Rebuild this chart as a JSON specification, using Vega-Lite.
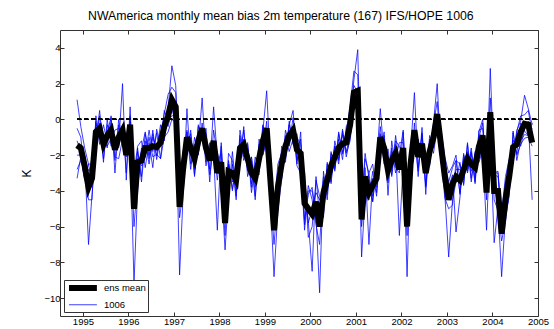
{
"$schema": "https://vega.github.io/schema/vega-lite/v6.json",
"width": 478, "height": 286,
"autosize": {"type": "none"},
"padding": {"left": 60, "top": 30, "right": 16, "bottom": 13},
"background": "white",
"config": {"view": {"stroke": null}, "font": "Liberation Sans"},
"title": {"text": "NWAmerica monthly mean bias 2m temperature (167) IFS/HOPE 1006", "anchor": "start", "frame": "group", "dx": 28, "fontSize": 12.3, "fontWeight": "normal", "font": "Liberation Sans", "color": "black", "offset": 7},
"data": {"values": [
{"t":"1994-11-15","mean":-1.45,"m1":1.1,"m2":-0.5,"m3":-1.2,"m4":-2.0,"m5":-2.8,"m6":-3.3},
{"t":"1994-12-15","mean":-1.6,"m1":-0.4,"m2":-1.0,"m3":-1.8,"m4":-2.0,"m5":-2.3,"m6":-2.1},
{"t":"1995-01-15","mean":-2.6,"m1":-1.6,"m2":-3.1,"m3":-2.2,"m4":-3.4,"m5":-2.0,"m6":-3.3},
{"t":"1995-02-15","mean":-3.8,"m1":-2.5,"m2":-4.5,"m3":-7.0,"m4":-2.8,"m5":-3.5,"m6":-2.5},
{"t":"1995-03-15","mean":-3.3,"m1":-2.5,"m2":-4.5,"m3":-4.2,"m4":-3.0,"m5":-2.1,"m6":-3.5},
{"t":"1995-04-15","mean":-0.7,"m1":-1.1,"m2":0.2,"m3":-1.8,"m4":-0.1,"m5":-1.2,"m6":-0.2},
{"t":"1995-05-15","mean":-0.5,"m1":0.2,"m2":-1.1,"m3":-0.2,"m4":-1.4,"m5":0.5,"m6":-1.0},
{"t":"1995-06-15","mean":-1.4,"m1":-2.2,"m2":-0.9,"m3":-2.4,"m4":-0.3,"m5":-1.7,"m6":-0.9},
{"t":"1995-07-15","mean":-0.9,"m1":-0.3,"m2":-1.6,"m3":0.0,"m4":-1.3,"m5":-0.7,"m6":-1.5},
{"t":"1995-08-15","mean":-0.6,"m1":-1.1,"m2":0.2,"m3":-1.5,"m4":-0.2,"m5":0.1,"m6":-1.1},
{"t":"1995-09-15","mean":-1.7,"m1":-1.2,"m2":-3.0,"m3":-1.0,"m4":-2.3,"m5":-2.1,"m6":-0.6},
{"t":"1995-10-15","mean":-1.0,"m1":-1.6,"m2":-0.3,"m3":-1.4,"m4":0.0,"m5":-2.2,"m6":-0.5},
{"t":"1995-11-15","mean":-0.6,"m1":-0.3,"m2":-1.5,"m3":2.0,"m4":-1.3,"m5":-1.1,"m6":-1.4},
{"t":"1995-12-15","mean":-2.0,"m1":-3.0,"m2":-0.8,"m3":-3.4,"m4":-1.6,"m5":-1.1,"m6":-2.1},
{"t":"1996-01-15","mean":-0.3,"m1":0.2,"m2":-1.1,"m3":0.7,"m4":-0.6,"m5":-0.9,"m6":-0.1},
{"t":"1996-02-15","mean":-5.0,"m1":-3.5,"m2":-9.2,"m3":-4.5,"m4":-3.0,"m5":-6.0,"m6":-3.8},
{"t":"1996-03-15","mean":-2.4,"m1":-1.8,"m2":-3.9,"m3":-1.6,"m4":-1.5,"m5":-3.4,"m6":-2.2},
{"t":"1996-04-15","mean":-2.3,"m1":-3.2,"m2":-1.6,"m3":-3.5,"m4":-1.2,"m5":-1.7,"m6":-2.6},
{"t":"1996-05-15","mean":-1.6,"m1":-0.8,"m2":-2.1,"m3":-1.2,"m4":-2.7,"m5":-0.7,"m6":-2.1},
{"t":"1996-06-15","mean":-1.6,"m1":-2.2,"m2":-0.6,"m3":-2.5,"m4":-1.3,"m5":-2.0,"m6":-1.0},
{"t":"1996-07-15","mean":-1.5,"m1":-0.6,"m2":-1.8,"m3":-1.0,"m4":-2.7,"m5":-0.8,"m6":-2.1},
{"t":"1996-08-15","mean":-1.55,"m1":-2.25,"m2":-0.75,"m3":-1.75,"m4":-0.55,"m5":-2.05,"m6":-1.95},
{"t":"1996-09-15","mean":-1.3,"m1":-0.9,"m2":-2.2,"m3":-0.3,"m4":-1.5,"m5":-0.7,"m6":-2.2},
{"t":"1996-10-15","mean":-0.4,"m1":0.3,"m2":-0.1,"m3":-1.2,"m4":0.5,"m5":-0.9,"m6":-1.0},
{"t":"1996-11-15","mean":0.2,"m1":1.4,"m2":-0.4,"m3":0.6,"m4":-0.1,"m5":0.4,"m6":-0.7},
{"t":"1996-12-15","mean":1.1,"m1":1.8,"m2":0.6,"m3":3.0,"m4":0.2,"m5":1.0,"m6":0.0},
{"t":"1997-01-15","mean":0.7,"m1":1.5,"m2":-0.2,"m3":1.9,"m4":0.2,"m5":1.0,"m6":-0.2},
{"t":"1997-02-15","mean":-4.9,"m1":-3.2,"m2":-5.5,"m3":-3.7,"m4":-8.7,"m5":-4.5,"m6":-3.8},
{"t":"1997-03-15","mean":-2.8,"m1":-1.9,"m2":-4.0,"m3":-2.3,"m4":-4.3,"m5":-2.5,"m6":-1.8},
{"t":"1997-04-15","mean":-1.0,"m1":-1.5,"m2":0.6,"m3":-1.8,"m4":-0.6,"m5":-2.0,"m6":-0.7},
{"t":"1997-05-15","mean":-1.6,"m1":-1.0,"m2":-2.5,"m3":-0.6,"m4":-2.8,"m5":-0.8,"m6":-1.9},
{"t":"1997-06-15","mean":-2.2,"m1":-3.2,"m2":-1.7,"m3":-2.8,"m4":-1.0,"m5":-3.1,"m6":-1.4},
{"t":"1997-07-15","mean":-1.2,"m1":-0.4,"m2":-1.6,"m3":-0.3,"m4":-2.0,"m5":-1.0,"m6":-1.9},
{"t":"1997-08-15","mean":-0.5,"m1":-0.9,"m2":1.2,"m3":-1.2,"m4":-0.2,"m5":-1.1,"m6":-0.8},
{"t":"1997-09-15","mean":-1.6,"m1":-0.9,"m2":-2.4,"m3":-1.2,"m4":-2.6,"m5":-0.5,"m6":-2.0},
{"t":"1997-10-15","mean":-2.3,"m1":-3.5,"m2":-1.4,"m3":-2.8,"m4":-1.7,"m5":-3.1,"m6":-1.3},
{"t":"1997-11-15","mean":-1.2,"m1":-0.6,"m2":-2.0,"m3":0.7,"m4":-1.9,"m5":-1.6,"m6":-1.8},
{"t":"1997-12-15","mean":-3.0,"m1":-2.0,"m2":-6.2,"m3":-2.2,"m4":-2.4,"m5":-3.4,"m6":-1.8},
{"t":"1998-01-15","mean":-2.4,"m1":-3.2,"m2":-1.3,"m3":-3.6,"m4":-1.9,"m5":-1.5,"m6":-2.9},
{"t":"1998-02-15","mean":-5.8,"m1":-5.0,"m2":-4.7,"m3":-7.3,"m4":-5.5,"m5":-5.8,"m6":-6.5},
{"t":"1998-03-15","mean":-2.9,"m1":-2.3,"m2":-1.9,"m3":-4.2,"m4":-2.5,"m5":-4.0,"m6":-2.5},
{"t":"1998-04-15","mean":-3.0,"m1":-3.9,"m2":-2.3,"m3":-1.8,"m4":-4.0,"m5":-2.5,"m6":-3.5},
{"t":"1998-05-15","mean":-3.4,"m1":-2.4,"m2":-4.5,"m3":-4.0,"m4":-2.6,"m5":-4.3,"m6":-2.6},
{"t":"1998-06-15","mean":-1.6,"m1":-2.2,"m2":-0.6,"m3":-1.1,"m4":-2.4,"m5":-0.9,"m6":-2.4},
{"t":"1998-07-15","mean":-1.4,"m1":-0.6,"m2":-1.9,"m3":-2.3,"m4":-0.4,"m5":-2.1,"m6":-1.1},
{"t":"1998-08-15","mean":-2.2,"m1":-2.9,"m2":-1.3,"m3":-1.6,"m4":-3.2,"m5":-1.4,"m6":-2.8},
{"t":"1998-09-15","mean":-3.0,"m1":-2.1,"m2":-3.8,"m3":-4.1,"m4":-2.3,"m5":-3.6,"m6":-2.1},
{"t":"1998-10-15","mean":-3.3,"m1":-3.8,"m2":-2.1,"m3":-2.6,"m4":-4.5,"m5":-2.5,"m6":-4.3},
{"t":"1998-11-15","mean":-2.2,"m1":-1.4,"m2":-2.9,"m3":-3.1,"m4":-1.1,"m5":-2.8,"m6":-1.9},
{"t":"1998-12-15","mean":-1.2,"m1":-1.8,"m2":-0.3,"m3":-0.7,"m4":-2.0,"m5":-0.4,"m6":-2.0},
{"t":"1999-01-15","mean":-0.5,"m1":-0.1,"m2":-1.1,"m3":1.6,"m4":-1.0,"m5":-1.2,"m6":-1.2},
{"t":"1999-02-15","mean":-3.5,"m1":-4.5,"m2":-2.1,"m3":-2.6,"m4":-4.7,"m5":-2.9,"m6":-4.2},
{"t":"1999-03-15","mean":-6.2,"m1":-5.0,"m2":-4.9,"m3":-6.0,"m4":-8.8,"m5":-5.5,"m6":-7.0},
{"t":"1999-04-15","mean":-3.8,"m1":-3.1,"m2":-2.5,"m3":-4.6,"m4":-5.1,"m5":-3.2,"m6":-4.3},
{"t":"1999-05-15","mean":-2.5,"m1":-3.3,"m2":-1.9,"m3":-1.5,"m4":-3.4,"m5":-3.1,"m6":-1.8},
{"t":"1999-06-15","mean":-1.5,"m1":-0.6,"m2":-2.2,"m3":-1.9,"m4":-1.0,"m5":-0.9,"m6":-2.4},
{"t":"1999-07-15","mean":-0.9,"m1":-1.4,"m2":-0.1,"m3":-0.3,"m4":-1.8,"m5":-1.5,"m6":-0.3},
{"t":"1999-08-15","mean":-0.6,"m1":0.1,"m2":-1.4,"m3":0.5,"m4":-1.1,"m5":-0.4,"m6":-1.3},
{"t":"1999-09-15","mean":-1.7,"m1":-2.3,"m2":-0.8,"m3":-2.5,"m4":-1.0,"m5":-2.6,"m6":-1.0},
{"t":"1999-10-15","mean":-1.9,"m1":-1.1,"m2":-2.9,"m3":-0.7,"m4":-2.3,"m5":-3.0,"m6":-1.4},
{"t":"1999-11-15","mean":-4.7,"m1":-6.2,"m2":-2.9,"m3":-5.6,"m4":-4.2,"m5":-5.9,"m6":-3.4},
{"t":"1999-12-15","mean":-5.0,"m1":-4.0,"m2":-6.6,"m3":-4.2,"m4":-5.7,"m5":-3.7,"m6":-5.8},
{"t":"2000-01-15","mean":-5.3,"m1":-4.0,"m2":-6.0,"m3":-3.8,"m4":-8.5,"m5":-4.5,"m6":-5.0},
{"t":"2000-02-15","mean":-4.6,"m1":-5.6,"m2":-3.4,"m3":-5.4,"m4":-3.2,"m5":-5.9,"m6":-4.1},
{"t":"2000-03-15","mean":-6.0,"m1":-5.0,"m2":-4.3,"m3":-9.7,"m4":-5.5,"m5":-7.0,"m6":-4.5},
{"t":"2000-04-15","mean":-4.1,"m1":-3.2,"m2":-5.5,"m3":-2.9,"m4":-4.9,"m5":-3.4,"m6":-4.7},
{"t":"2000-05-15","mean":-3.4,"m1":-4.2,"m2":-2.4,"m3":-4.5,"m4":-2.5,"m5":-4.0,"m6":-2.8},
{"t":"2000-06-15","mean":-2.6,"m1":-1.9,"m2":-3.5,"m3":-1.8,"m4":-3.6,"m5":-2.1,"m6":-2.7},
{"t":"2000-07-15","mean":-2.1,"m1":-2.7,"m2":-1.2,"m3":-2.8,"m4":-1.5,"m5":-2.9,"m6":-1.5},
{"t":"2000-08-15","mean":-1.6,"m1":-0.8,"m2":-2.2,"m3":-1.1,"m4":-2.5,"m5":-0.7,"m6":-2.3},
{"t":"2000-09-15","mean":-1.35,"m1":-1.85,"m2":-0.65,"m3":-2.25,"m4":-0.55,"m5":-1.95,"m6":-0.85},
{"t":"2000-10-15","mean":-1.3,"m1":-0.7,"m2":-2.1,"m3":-0.4,"m4":-1.9,"m5":-0.9,"m6":-1.8},
{"t":"2000-11-15","mean":-0.3,"m1":0.7,"m2":-1.0,"m3":0.1,"m4":-1.2,"m5":0.5,"m6":-0.9},
{"t":"2000-12-15","mean":1.5,"m1":2.7,"m2":1.0,"m3":2.2,"m4":0.7,"m5":1.9,"m6":0.5},
{"t":"2001-01-15","mean":1.6,"m1":2.5,"m2":0.4,"m3":3.9,"m4":0.5,"m5":1.5,"m6":0.8},
{"t":"2001-02-15","mean":-5.6,"m1":-4.8,"m2":-6.0,"m3":-4.6,"m4":-7.7,"m5":-5.0,"m6":-5.5},
{"t":"2001-03-15","mean":-3.2,"m1":-2.2,"m2":-4.0,"m3":-1.9,"m4":-4.3,"m5":-2.7,"m6":-4.1},
{"t":"2001-04-15","mean":-4.1,"m1":-3.0,"m2":-4.5,"m3":-3.3,"m4":-3.0,"m5":-7.0,"m6":-3.8},
{"t":"2001-05-15","mean":-3.7,"m1":-4.6,"m2":-2.9,"m3":-4.3,"m4":-2.5,"m5":-3.3,"m6":-4.6},
{"t":"2001-06-15","mean":-3.3,"m1":-2.7,"m2":-4.3,"m3":-2.4,"m4":-4.1,"m5":-3.8,"m6":-2.5},
{"t":"2001-07-15","mean":-1.0,"m1":-0.4,"m2":-1.8,"m3":0.6,"m4":-1.9,"m5":-0.8,"m6":-1.7},
{"t":"2001-08-15","mean":-1.6,"m1":-2.3,"m2":-0.7,"m3":-2.1,"m4":-0.9,"m5":-2.5,"m6":-1.1},
{"t":"2001-09-15","mean":-2.85,"m1":-2.05,"m2":-4.25,"m3":-2.25,"m4":-3.35,"m5":-1.65,"m6":-3.55},
{"t":"2001-10-15","mean":-2.3,"m1":-2.9,"m2":-1.2,"m3":-3.1,"m4":-1.6,"m5":-3.2,"m6":-1.8},
{"t":"2001-11-15","mean":-1.9,"m1":-1.2,"m2":-2.7,"m3":-0.9,"m4":-3.0,"m5":-1.4,"m6":-2.2},
{"t":"2001-12-15","mean":-2.8,"m1":-1.5,"m2":-3.0,"m3":-2.5,"m4":-2.0,"m5":-6.5,"m6":-1.3},
{"t":"2002-01-15","mean":-1.6,"m1":-2.1,"m2":-0.7,"m3":-2.4,"m4":-0.6,"m5":-2.5,"m6":-1.3},
{"t":"2002-02-15","mean":-6.0,"m1":-5.0,"m2":-4.7,"m3":-6.5,"m4":-5.2,"m5":-5.8,"m6":-8.8},
{"t":"2002-03-15","mean":-2.5,"m1":-1.6,"m2":-3.5,"m3":-1.8,"m4":-3.7,"m5":-2.1,"m6":-2.3},
{"t":"2002-04-15","mean":-0.6,"m1":-1.1,"m2":-0.2,"m3":1.5,"m4":-1.4,"m5":-1.0,"m6":-1.4},
{"t":"2002-05-15","mean":-2.1,"m1":-1.3,"m2":-3.2,"m3":-2.7,"m4":-1.1,"m5":-2.9,"m6":-1.4},
{"t":"2002-06-15","mean":-1.35,"m1":-2.05,"m2":-0.45,"m3":-0.85,"m4":-2.25,"m5":-0.75,"m6":-1.75},
{"t":"2002-07-15","mean":-3.0,"m1":-2.1,"m2":-4.2,"m3":-3.8,"m4":-2.0,"m5":-3.7,"m6":-2.2},
{"t":"2002-08-15","mean":-1.8,"m1":-2.4,"m2":-0.9,"m3":-1.1,"m4":-2.6,"m5":-1.3,"m6":-2.5},
{"t":"2002-09-15","mean":-1.0,"m1":-0.3,"m2":-1.6,"m3":-1.9,"m4":-0.2,"m5":-1.5,"m6":-0.5},
{"t":"2002-10-15","mean":0.3,"m1":1.0,"m2":-0.2,"m3":-0.5,"m4":2.0,"m5":0.3,"m6":-0.8},
{"t":"2002-11-15","mean":-1.5,"m1":-2.1,"m2":-0.7,"m3":-0.6,"m4":-2.2,"m5":-2.5,"m6":-0.9},
{"t":"2002-12-15","mean":-3.2,"m1":-2.4,"m2":-4.2,"m3":-2.1,"m4":-4.4,"m5":-2.3,"m6":-3.8},
{"t":"2003-01-15","mean":-4.5,"m1":-3.5,"m2":-7.7,"m3":-3.0,"m4":-5.0,"m5":-3.8,"m6":-4.0},
{"t":"2003-02-15","mean":-3.6,"m1":-2.7,"m2":-4.5,"m3":-2.6,"m4":-4.8,"m5":-3.1,"m6":-3.9},
{"t":"2003-03-15","mean":-3.2,"m1":-2.3,"m2":-3.5,"m3":-2.0,"m4":-2.3,"m5":-6.3,"m6":-2.8},
{"t":"2003-04-15","mean":-3.4,"m1":-4.1,"m2":-2.4,"m3":-4.2,"m4":-2.5,"m5":-4.4,"m6":-2.8},
{"t":"2003-05-15","mean":-2.8,"m1":-2.0,"m2":-3.7,"m3":-2.2,"m4":-3.6,"m5":-1.9,"m6":-3.4},
{"t":"2003-06-15","mean":-2.2,"m1":-2.8,"m2":-1.4,"m3":-2.9,"m4":-1.3,"m5":-3.0,"m6":-1.8},
{"t":"2003-07-15","mean":-2.5,"m1":-1.8,"m2":-3.3,"m3":-1.6,"m4":-3.5,"m5":-1.9,"m6":-2.9},
{"t":"2003-08-15","mean":-2.7,"m1":-3.5,"m2":-1.8,"m3":-3.3,"m4":-1.9,"m5":-3.6,"m6":-2.1},
{"t":"2003-09-15","mean":-1.5,"m1":-0.7,"m2":-2.2,"m3":-0.6,"m4":-2.4,"m5":-1.0,"m6":-2.1},
{"t":"2003-10-15","mean":-0.9,"m1":0.0,"m2":-1.5,"m3":-0.5,"m4":-1.7,"m5":-0.2,"m6":-1.5},
{"t":"2003-11-15","mean":-4.1,"m1":-3.3,"m2":-4.5,"m3":-3.3,"m4":-6.2,"m5":-3.5,"m6":-3.8},
{"t":"2003-12-15","mean":0.4,"m1":1.2,"m2":-0.3,"m3":2.85,"m4":-0.8,"m5":0.3,"m6":-0.85},
{"t":"2004-01-15","mean":-4.0,"m1":-3.0,"m2":-4.5,"m3":-3.1,"m4":-3.5,"m5":-3.0,"m6":-6.9},
{"t":"2004-02-15","mean":-4.0,"m1":-3.0,"m2":-5.1,"m3":-3.2,"m4":-4.9,"m5":-2.9,"m6":-4.9},
{"t":"2004-03-15","mean":-6.4,"m1":-5.6,"m2":-6.8,"m3":-5.2,"m4":-8.8,"m5":-5.8,"m6":-6.2},
{"t":"2004-04-15","mean":-4.5,"m1":-3.5,"m2":-5.7,"m3":-3.2,"m4":-5.4,"m5":-3.9,"m6":-5.3},
{"t":"2004-05-15","mean":-3.2,"m1":-2.4,"m2":-4.1,"m3":-2.2,"m4":-4.3,"m5":-2.5,"m6":-3.7},
{"t":"2004-06-15","mean":-1.55,"m1":-2.15,"m2":-0.75,"m3":-2.25,"m4":-0.65,"m5":-2.35,"m6":-1.15},
{"t":"2004-07-15","mean":-1.4,"m1":-0.7,"m2":-2.0,"m3":-0.6,"m4":-2.3,"m5":-0.9,"m6":-1.9},
{"t":"2004-08-15","mean":-0.7,"m1":0.2,"m2":-1.4,"m3":-0.1,"m4":-1.2,"m5":-1.5,"m6":-0.2},
{"t":"2004-09-15","mean":-0.25,"m1":0.25,"m2":-1.05,"m3":1.35,"m4":-0.85,"m5":-0.55,"m6":-0.65},
{"t":"2004-10-15","mean":-0.3,"m1":0.5,"m2":-1.0,"m3":0.6,"m4":-0.9,"m5":-0.1,"m6":-0.9},
{"t":"2004-11-15","mean":-1.3,"m1":-0.8,"m2":-1.5,"m3":-0.3,"m4":-0.5,"m5":-4.5,"m6":-0.2}
]},
"layer": [
{
"transform": [{"fold": ["m1","m2","m3","m4","m5","m6"], "as": ["k","v"]}],
"mark": {"type": "line"},
"encoding": {
"x": {"field": "t", "type": "temporal", "scale": {"domain": [{"year":1994,"month":7,"date":1},{"year":2005,"month":1,"date":1}]},
 "axis": {"orient": "bottom", "title": null, "format": "%Y", "tickCount": {"interval": "year", "step": 1}, "tickSize": -4, "labelPadding": 4, "labelFontSize": 9.5, "labelColor": "black", "labelFont": "Liberation Sans", "domainColor": "#333", "tickColor": "#333", "grid": false, "labelFlush": false, "labelOverlap": false}},
"y": {"field": "v", "type": "quantitative", "scale": {"domain": [-11, 5], "nice": false},
 "axis": {"orient": "left", "title": "K", "values": [-10,-8,-6,-4,-2,0,2,4], "tickSize": -4, "labelPadding": 4, "labelFontSize": 9.5, "labelColor": "black", "labelFont": "Liberation Sans", "domainColor": "#333", "tickColor": "#333", "grid": false, "titleFontSize": 12, "titleFontWeight": "normal", "titleColor": "black", "titleFont": "Liberation Sans", "titlePadding": 10}},
"detail": {"field": "k"},
"color": {"field": "k", "type": "nominal", "scale": {"domain": ["mean","m1","m2","m3","m4","m5","m6"], "range": ["black","#0000ff","#0000ff","#0000ff","#0000ff","#0000ff","#0000ff"]},
 "legend": {"title": null, "orient": "bottom-left", "offset": 4, "values": ["mean","m1"], "labelExpr": "datum.value == 'mean' ? 'ens mean' : '1006'", "symbolType": "M-1,0H8.3", "symbolSize": 36, "fillColor": "white", "strokeColor": "#333", "padding": 2, "labelFontSize": 9.5, "labelFont": "Liberation Sans", "labelColor": "black", "rowPadding": -1, "cornerRadius": 0, "labelOffset": 26}},
"strokeWidth": {"field": "k", "type": "nominal", "scale": {"type": "ordinal", "domain": ["mean","m1","m2","m3","m4","m5","m6"], "range": [6,0.75,0.75,0.75,0.75,0.75,0.75]},
 "legend": {"title": null, "orient": "bottom-left", "offset": 4, "values": ["mean","m1"], "labelExpr": "datum.value == 'mean' ? 'ens mean' : '1006'", "symbolType": "M-1,0H8.3", "symbolSize": 36, "fillColor": "white", "strokeColor": "#333", "padding": 2, "labelFontSize": 9.5, "labelFont": "Liberation Sans", "labelColor": "black", "rowPadding": -1, "cornerRadius": 0, "labelOffset": 26}}
}
},
{
"transform": [{"fold": ["mean"], "as": ["k","v"]}],
"mark": {"type": "line"},
"encoding": {
"x": {"field": "t", "type": "temporal", "scale": {"domain": [{"year":1994,"month":7,"date":1},{"year":2005,"month":1,"date":1}]},
 "axis": {"orient": "top", "title": null, "labels": false, "tickCount": {"interval": "year", "step": 1}, "tickSize": -4, "domainColor": "#333", "tickColor": "#333", "grid": false}},
"y": {"field": "v", "type": "quantitative", "scale": {"domain": [-11, 5], "nice": false},
 "axis": {"orient": "right", "title": null, "labels": false, "values": [-10,-8,-6,-4,-2,0,2,4], "tickSize": -4, "domainColor": "#333", "tickColor": "#333", "grid": false}},
"color": {"field": "k", "type": "nominal", "scale": {"domain": ["mean","m1","m2","m3","m4","m5","m6"], "range": ["black","#0000ff","#0000ff","#0000ff","#0000ff","#0000ff","#0000ff"]},
 "legend": {"title": null, "orient": "bottom-left", "offset": 4, "values": ["mean","m1"], "labelExpr": "datum.value == 'mean' ? 'ens mean' : '1006'", "symbolType": "M-1,0H8.3", "symbolSize": 36, "fillColor": "white", "strokeColor": "#333", "padding": 2, "labelFontSize": 9.5, "labelFont": "Liberation Sans", "labelColor": "black", "rowPadding": -1, "cornerRadius": 0, "labelOffset": 26}},
"strokeWidth": {"field": "k", "type": "nominal", "scale": {"type": "ordinal", "domain": ["mean","m1","m2","m3","m4","m5","m6"], "range": [6,0.75,0.75,0.75,0.75,0.75,0.75]},
 "legend": {"title": null, "orient": "bottom-left", "offset": 4, "values": ["mean","m1"], "labelExpr": "datum.value == 'mean' ? 'ens mean' : '1006'", "symbolType": "M-1,0H8.3", "symbolSize": 36, "fillColor": "white", "strokeColor": "#333", "padding": 2, "labelFontSize": 9.5, "labelFont": "Liberation Sans", "labelColor": "black", "rowPadding": -1, "cornerRadius": 0, "labelOffset": 26}}
}
},
{
"mark": {"type": "rule", "strokeDash": [4, 3], "color": "black", "strokeWidth": 1},
"encoding": {
"x": {"datum": {"year":1994,"month":11,"date":15}, "type": "temporal", "axis": null},
"x2": {"datum": {"year":2005,"month":1,"date":1}},
"y": {"datum": 0, "type": "quantitative", "axis": null}
}
}
],
"resolve": {"axis": {"x": "independent", "y": "independent"}}
}
